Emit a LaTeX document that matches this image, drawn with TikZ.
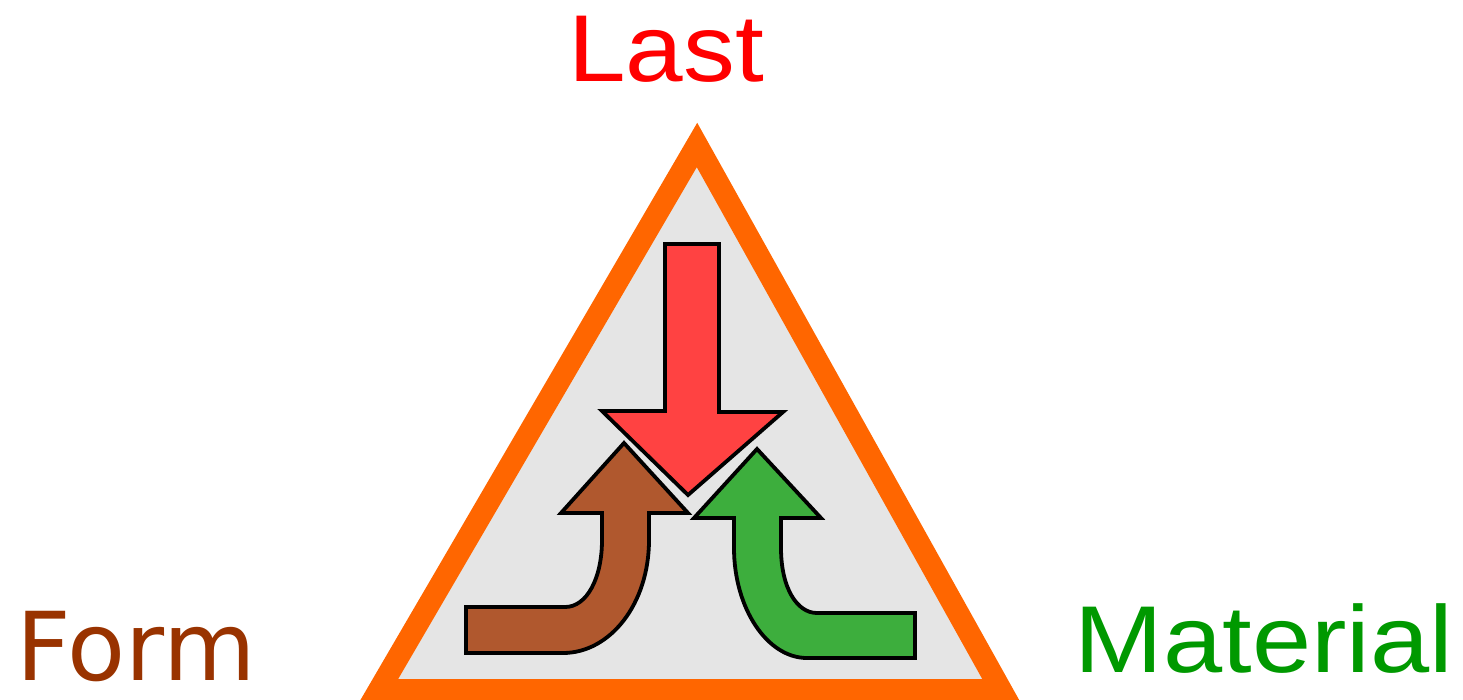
\documentclass[tikz,border=0pt]{standalone}
\usepackage{fontspec}
\setmainfont{Liberation Sans}
\newfontfamily\formfont{DejaVu Sans}
\definecolor{triorange}{HTML}{FF6600}
\definecolor{trigray}{HTML}{E5E5E5}
\definecolor{lastred}{HTML}{FF0000}
\definecolor{formbrown}{HTML}{993300}
\definecolor{matgreen}{HTML}{009900}
\definecolor{arrred}{HTML}{FF4242}
\definecolor{arrbrown}{HTML}{B0582E}
\definecolor{arrgreen}{HTML}{3DAE3D}
\tikzset{
  arrowshape/.style={draw=black, line width=3.8, line join=miter},
  label/.style={inner sep=0pt, anchor=base, font=\fontsize{95}{100}\selectfont},
}
\begin{document}
\begin{tikzpicture}[x=1pt,y=-1pt]
\useasboundingbox (0,0) rectangle (1463,699);
% triangle
\draw[triorange, fill=trigray, line width=22, line join=miter]
  (697,145) -- (379,690) -- (1001,690) -- cycle;
% red arrow (down)
\draw[arrowshape, fill=arrred]
  (665,244) -- (719,244) -- (719,412) -- (783,412) -- (688,495)
  -- (602,411) -- (665,411) -- cycle;
% brown arrow
\draw[arrowshape, fill=arrbrown]
  (624,443) -- (688,513) -- (649,513) -- (649,540)
  .. controls (649,604) and (610,653) .. (563,653)
  -- (466,653) -- (466,607) -- (565,607)
  .. controls (587,607) and (602,578) .. (602,540)
  -- (602,513) -- (561,513) -- cycle;
% green arrow
\draw[arrowshape, fill=arrgreen]
  (757,449) -- (821,518) -- (781,518) -- (781,548)
  .. controls (781,588) and (797,613) .. (817,613)
  -- (915,613) -- (915,658) -- (807,658)
  .. controls (767,658) and (734,608) .. (734,548)
  -- (734,518) -- (694,518) -- cycle;
% labels
\node[label, text=lastred, xscale=1.09] (last) at (666,81) {Last};
\node[label, text=formbrown, font=\formfont\fontsize{95}{100}\selectfont] (form) at (136,680) {Form};
\node[label, text=matgreen, xscale=1.12] (material) at (1264,672) {Material};
\end{tikzpicture}
\end{document}
